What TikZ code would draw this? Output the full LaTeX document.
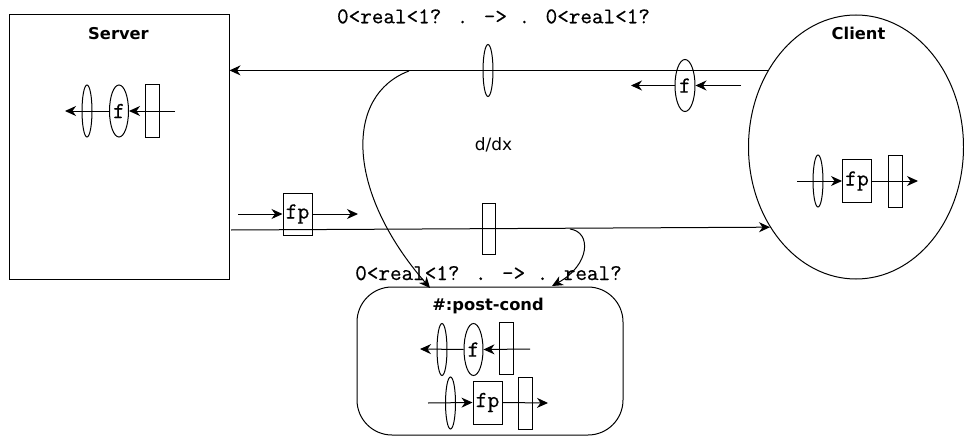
\documentclass[tikz,border=0pt]{standalone}
\usepackage{fontspec}
\usetikzlibrary{shapes.geometric,arrows.meta}
\newfontfamily\sansf{DejaVu Sans}
\newfontfamily\monof{Latin Modern Mono}[FakeBold=0.45]
\tikzset{
  lw/.style={line width=1pt},
  arr/.style={lw,-{Stealth[length=11pt,width=10pt,inset=3.5pt]}},
  thinell/.style={draw,lw,ellipse,inner sep=0pt,minimum width=10pt,minimum height=52pt},
  fell/.style={draw,lw,ellipse,inner sep=0pt,minimum width=19pt,minimum height=52pt,font=\monof\fontsize{23}{24}\selectfont},
  bar/.style={draw,lw,rectangle,inner sep=0pt,minimum width=14pt,minimum height=52pt},
  fpbox/.style={draw,lw,rectangle,inner sep=0pt,minimum width=29pt,minimum height=43pt,font=\monof\fontsize{23}{24}\selectfont},
  monolab/.style={anchor=base,inner sep=0pt,font=\monof\fontsize{22.5}{24}\selectfont},
  title/.style={anchor=base,inner sep=0pt,font=\sansf\bfseries\fontsize{16.3}{18}\selectfont},
}
\begin{document}
\begin{tikzpicture}[x=1pt,y=-1pt]
\useasboundingbox (0,0) rectangle (964,436);
% main containers
\node[draw,lw,rectangle,minimum width=220pt,minimum height=264pt,inner sep=0pt] (server) at (119,147) {};
\node[draw,lw,ellipse,minimum width=215pt,minimum height=264pt,inner sep=0pt] (client) at (856,147) {};
\node[draw,lw,rectangle,rounded corners=35pt,minimum width=266pt,minimum height=148pt,inner sep=0pt] (postcond) at (490,361) {};
% titles
\node[title] (stitle) at (118.5,39.3) {Server};
\node[title] (ctitle) at (858.5,39.3) {Client};
\node[title] (ptitle) at (488,310.7) {\#:post-cond};
% labels
\node[monolab] (ltop) at (493.5,23.3) {0<real<1? . -> . 0<real<1?};
\node[monolab] (lbot) at (488.5,280) {0<real<1? . -> . real?};
\node[anchor=base,inner sep=0pt,font=\sansf\fontsize{17}{18}\selectfont] (ddx) at (493.5,150.7) {d/dx};
% server internals
\node[thinell] (sE) at (87,111) {};
\node[fell] (sF) at (119,111) {f};
\node[bar] (sR) at (152,111) {};
\coordinate (sIn) at (175,111);
\coordinate (sOut) at (65,111);
\draw[arr] (sIn) -- (sF.east);
\draw[arr] (sF.west) -- (sOut);
% client internals
\node[thinell] (cE) at (818,181) {};
\node[fpbox] (cFP) at (857,181) {fp};
\node[bar] (cR) at (895,181) {};
\coordinate (cIn) at (797,181);
\coordinate (cOut) at (918,181);
\draw[arr] (cIn) -- (cFP.west);
\draw[arr] (cFP.east) -- (cOut);
% top channel
\draw[arr] (client.139.3) -- (server.east |- client.139.3);
\node[thinell] (tE) at (488,70.5) {};
\node[fell,minimum width=20pt] (cF) at (685,85.5) {f};
\coordinate (cfIn) at (741,85.5);
\coordinate (cfOut) at (631,85.5);
\draw[arr] (cfIn) -- (cF.east);
\draw[arr] (cF.west) -- (cfOut);
% bottom channel
\coordinate (b0) at (231,230);
\draw[arr] (b0) -- (client.223);
\node[bar,minimum width=13pt,minimum height=51pt] (bR) at (488.5,228.5) {};
\node[fpbox,minimum height=42pt] (sFP) at (297.5,214) {fp};
\coordinate (sfpIn) at (238,214);
\coordinate (sfpOut) at (358,214);
\draw[arr] (sfpIn) -- (sFP.west);
\draw[arr] (sFP.east) -- (sfpOut);
% curved connectors to post-cond
\coordinate (k1) at (409,71);
\coordinate (p1) at (430,288);
\draw[arr] (k1) .. controls (345,95) and (345,190) .. (p1);
\coordinate (k2) at (570,229);
\coordinate (p2) at (552,286);
\draw[arr] (k2) .. controls (592,232) and (590,265) .. (p2);
% post-cond internals
\node[thinell] (pE1) at (442,349.5) {};
\node[fell] (pF) at (473.5,349.5) {f};
\node[bar] (pR1) at (506,348) {};
\coordinate (pIn1) at (530,349);
\coordinate (pOut1) at (420,349);
\draw[arr] (pIn1) -- (pF.east);
\draw[arr] (pF.west) -- (pOut1);
\node[thinell] (pE2) at (450.5,403) {};
\node[fpbox] (pFP) at (487.5,402.5) {fp};
\node[bar] (pR2) at (525,403) {};
\coordinate (pIn2) at (428,403);
\coordinate (pOut2) at (548,403);
\draw[arr] (pIn2) -- (pFP.west);
\draw[arr] (pFP.east) -- (pOut2);
\end{tikzpicture}
\end{document}
